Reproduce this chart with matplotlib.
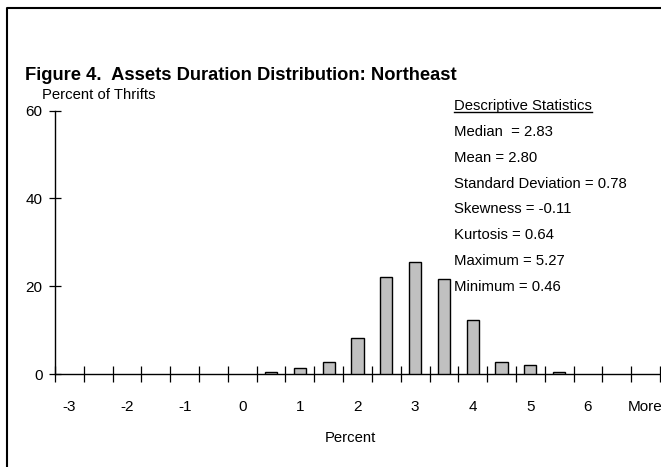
import matplotlib
matplotlib.use("Agg")
import matplotlib.pyplot as plt
from matplotlib.lines import Line2D
import numpy as np

plt.rcParams['font.family'] = ['Liberation Sans', 'DejaVu Sans']

# histogram bins (upper bound of each bin) and percent of thrifts per bin
bins = ['-3', '-2.5', '-2', '-1.5', '-1', '-0.5', '0', '0.5', '1', '1.5', '2',
        '2.5', '3', '3.5', '4', '4.5', '5', '5.5', '6', '6.5', 'More']
pct = [0, 0, 0, 0, 0, 0, 0, 0.5, 1.4, 2.8, 8.1,
       22.0, 25.6, 21.7, 12.3, 2.8, 2.0, 0.5, 0, 0, 0]
yticks = [0, 20, 40, 60]

stats_title = 'Descriptive Statistics'
stats_lines = ['Median  = 2.83', 'Mean = 2.80', 'Standard Deviation = 0.78',
               'Skewness = -0.11', 'Kurtosis = 0.64', 'Maximum = 5.27',
               'Minimum = 0.46']

W, H = 661, 467
fig = plt.figure(figsize=(W / 100, H / 100), dpi=100)
ax = fig.add_axes([55 / W, 93 / H, 605 / W, 263.5 / H])

x = np.arange(len(bins))
vals = np.array(pct)
nz = vals > 0
ax.bar(x[nz], vals[nz], width=0.42, color='#C0C0C0', edgecolor='black',
       linewidth=1.0, zorder=3)

ax.set_xlim(-0.5, len(bins) - 0.5)
ax.set_ylim(0, 60)
for s in ['top', 'right']:
    ax.spines[s].set_visible(False)
for s in ['left', 'bottom']:
    ax.spines[s].set_linewidth(1.0)

# tick marks sit between the bins, labels on every other bin
ax.set_xticks(np.arange(len(bins) + 1) - 0.5)
ax.set_xticklabels([])
ax.set_xticks(x[::2], minor=True)
ax.set_xticklabels(bins[::2], minor=True)
ax.tick_params(axis='x', which='major', direction='inout', length=11, width=0.9)
ax.tick_params(axis='x', which='minor', length=0, pad=19, labelsize=11)
ax.set_yticks(yticks)
ax.tick_params(axis='y', direction='inout', length=8, width=0.9, labelsize=11, pad=5)

fig.text(25 / W, 1 - 75 / H, 'Figure 4.  Assets Duration Distribution: Northeast',
         fontsize=13.2, fontweight='bold', va='center', ha='left')
fig.text(42 / W, 1 - 95 / H, 'Percent of Thrifts', fontsize=10.7, va='center', ha='left')
fig.text(350 / W, 1 - 438 / H, 'Percent', fontsize=10.7, va='center', ha='center')

t = fig.text(454 / W, 1 - 106 / H, stats_title, fontsize=10.7, va='center', ha='left')
for i, line in enumerate(stats_lines):
    fig.text(454 / W, 1 - (132 + i * 25.8) / H, line, fontsize=10.7, va='center', ha='left')

# underline the stats heading
fig.canvas.draw()
bb = t.get_window_extent()
fig.add_artist(Line2D([bb.x0 / W, bb.x1 / W], [(bb.y0 + 1) / H, (bb.y0 + 1) / H],
                      color='black', linewidth=1.0, transform=fig.transFigure))

# outer frame (left and top edges visible)
fig.add_artist(Line2D([7 / W, 7 / W, 1.01], [-0.01, 1 - 8 / H, 1 - 8 / H],
                      color='black', linewidth=1.5, transform=fig.transFigure))

fig.savefig('out.png', dpi=100)
